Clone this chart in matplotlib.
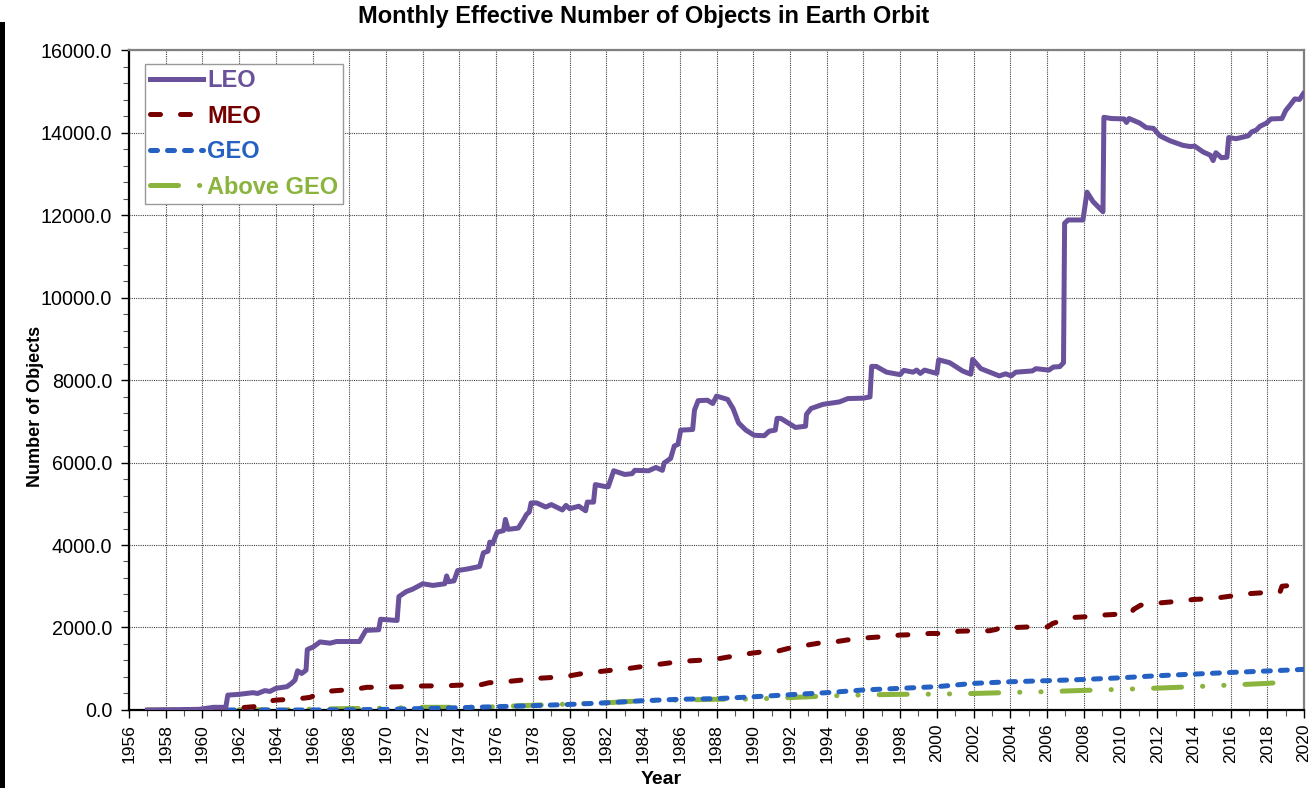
import matplotlib.pyplot as plt
from matplotlib.patches import Rectangle
from matplotlib.ticker import MultipleLocator, FormatStrFormatter

plt.rcParams['font.family'] = ['Liberation Sans', 'DejaVu Sans']

# values (year, effective number of objects)
leo_year = [1957.0, 1959.8, 1960.6, 1961.27, 1961.38, 1962.0, 1962.75, 1963.0, 1963.4, 1963.67,
            1964.0, 1964.6, 1964.85, 1965.04, 1965.18, 1965.4, 1965.64, 1965.71, 1966.04, 1966.4,
            1966.95, 1967.3, 1968.55, 1968.9, 1969.6, 1969.7, 1970.6, 1970.7, 1971.1, 1971.45,
            1972.0, 1972.55, 1973.2, 1973.3, 1973.4, 1973.7, 1973.9, 1974.45, 1975.1, 1975.3,
            1975.55, 1975.65, 1975.8, 1976.05, 1976.4, 1976.5, 1976.65, 1977.2, 1977.5, 1977.65,
            1977.8, 1977.9, 1978.2, 1978.7, 1979.0, 1979.6, 1979.8, 1980.0, 1980.5, 1980.87,
            1980.96, 1981.3, 1981.4, 1981.9, 1982.1, 1982.4, 1983.0, 1983.4, 1983.55, 1984.3,
            1984.7, 1985.05, 1985.15, 1985.5, 1985.7, 1985.9, 1986.05, 1986.7, 1986.8, 1987.0,
            1987.5, 1987.8, 1988.0, 1988.6, 1988.9, 1989.2, 1989.6, 1990.05, 1990.6, 1990.87,
            1991.2, 1991.3, 1991.5, 1992.3, 1992.85, 1992.9, 1993.15, 1993.8, 1994.7, 1995.15,
            1996.0, 1996.36, 1996.45, 1996.7, 1997.26, 1998.0, 1998.2, 1998.7, 1998.9, 1999.1,
            1999.33, 2000.0, 2000.1, 2000.7, 2001.4, 2001.85, 2001.95, 2002.4, 2003.4, 2003.75,
            2004.05, 2004.3, 2005.2, 2005.4, 2006.1, 2006.35, 2006.7, 2006.9, 2006.96, 2007.15,
            2007.96, 2008.18, 2008.5, 2009.05, 2009.1, 2009.5, 2010.2, 2010.33, 2010.47, 2011.05,
            2011.4, 2011.8, 2012.15, 2012.7, 2013.4, 2013.8, 2014.05, 2014.5, 2014.9, 2015.05,
            2015.2, 2015.5, 2015.8, 2015.9, 2016.3, 2016.96, 2017.15, 2017.4, 2017.6, 2017.96,
            2018.2, 2018.8, 2019.0, 2019.25, 2019.5, 2019.75, 2019.96]
leo_count = [0, 15, 65, 65, 360, 380, 420, 400, 470, 450,
             525, 565, 645, 725, 950, 885, 965, 1465, 1530, 1650,
             1620, 1660, 1660, 1930, 1945, 2200, 2170, 2750, 2870, 2930,
             3060, 3020, 3060, 3250, 3110, 3130, 3380, 3420, 3480, 3810,
             3850, 4070, 4030, 4310, 4350, 4620, 4380, 4410, 4620, 4740,
             4800, 5020, 5020, 4920, 4980, 4850, 4960, 4880, 4940, 4830,
             5040, 5040, 5465, 5420, 5410, 5800, 5710, 5730, 5810, 5800,
             5880, 5810, 5990, 6100, 6400, 6440, 6785, 6800, 7270, 7500,
             7510, 7430, 7610, 7530, 7310, 6960, 6785, 6660, 6650, 6760,
             6785, 7070, 7070, 6850, 6880, 7170, 7310, 7410, 7470, 7550,
             7560, 7590, 8330, 8330, 8190, 8130, 8235, 8190, 8240, 8160,
             8240, 8160, 8490, 8420, 8220, 8140, 8500, 8275, 8100, 8150,
             8100, 8190, 8220, 8275, 8240, 8315, 8325, 8420, 11800, 11880,
             11880, 12555, 12330, 12080, 14370, 14340, 14330, 14245, 14340, 14230,
             14120, 14100, 13920, 13800, 13690, 13660, 13670, 13530, 13450, 13320,
             13510, 13390, 13400, 13880, 13850, 13920, 14015, 14060, 14150, 14230,
             14330, 14340, 14530, 14670, 14815, 14800, 14940]

meo_year = [1959.0, 1961.7, 1962.8, 1963.4, 1964.0, 1965.1, 1965.85, 1966.65, 1967.3, 1968.3,
            1968.95, 1969.5, 1970.8, 1971.7, 1973.45, 1974.1, 1975.1, 1975.6, 1976.5, 1977.4,
            1978.2, 1979.1, 1979.9, 1980.7, 1981.5, 1982.3, 1983.2, 1983.9, 1984.9, 1985.6,
            1986.5, 1987.3, 1988.2, 1988.9, 1989.8, 1990.5, 1991.4, 1992.1, 1992.9, 1993.7,
            1994.5, 1995.3, 1996.2, 1997.0, 1997.96, 1998.8, 1999.6, 2000.5, 2001.2, 2002.04,
            2002.85, 2003.2, 2003.6, 2004.3, 2005.1, 2006.04, 2006.3, 2006.6, 2007.3, 2008.1,
            2009.0, 2009.8, 2010.6, 2010.7, 2011.1, 2012.0, 2013.0, 2014.0, 2015.0, 2016.0,
            2017.0, 2018.0, 2018.7, 2018.8, 2019.5, 2020.0]
meo_count = [0, 40, 80, 200, 240, 265, 305, 445, 470, 500,
             550, 550, 565, 580, 590, 605, 605, 660, 685, 725,
             765, 790, 820, 885, 925, 965, 1005, 1050, 1110, 1150,
             1190, 1210, 1250, 1305, 1370, 1410, 1435, 1515, 1570, 1630,
             1655, 1710, 1750, 1775, 1815, 1830, 1855, 1855, 1910, 1920,
             1920, 1950, 2015, 2000, 2015, 2015, 2095, 2140, 2240, 2260,
             2300, 2320, 2340, 2435, 2540, 2590, 2630, 2680, 2700, 2760,
             2820, 2850, 2870, 3000, 3030, 3030]

geo_year = [1959.5, 1966.0, 1968.0, 1970.0, 1972.0, 1974.0, 1976.0, 1978.0, 1980.0, 1982.0,
            1984.0, 1986.0, 1988.0, 1990.0, 1992.0, 1994.0, 1996.0, 1998.0, 2000.0, 2002.0,
            2004.0, 2006.0, 2008.0, 2010.0, 2012.0, 2014.0, 2016.0, 2018.0, 2020.0]
geo_count = [0, 0, 5, 15, 35, 55, 80, 105, 135, 175,
             225, 260, 275, 320, 370, 420, 485, 525, 565, 645,
             685, 710, 740, 780, 830, 870, 910, 945, 985]

above_year = [1957.0, 1964.0, 1966.0, 1968.0, 1970.0, 1972.0, 1974.0, 1976.0, 1978.0, 1980.0,
              1982.0, 1984.0, 1986.0, 1988.0, 1990.0, 1992.0, 1994.0, 1996.0, 1998.0, 2000.0,
              2002.0, 2004.0, 2006.0, 2008.0, 2010.0, 2012.0, 2014.0, 2016.0, 2018.0, 2019.3]
above_count = [0, 5, 20, 35, 45, 65, 65, 80, 115, 145,
               175, 225, 240, 260, 265, 300, 340, 365, 380, 385,
               400, 425, 445, 475, 500, 530, 565, 605, 645, 685]

fig = plt.figure(figsize=(13.14, 7.88), dpi=100)
ax = fig.add_axes([0.0982, 0.099, 0.8942, 0.8375])

lw = 3.6
ax.plot(leo_year, leo_count, color="#6a519b", lw=lw, solid_joinstyle="round", label="LEO", zorder=5)
ax.plot(meo_year, meo_count, color="#760000", lw=lw, linestyle=(0, (2.0, 4.0)),
        dash_capstyle="round", label="MEO", zorder=4)
ax.plot(geo_year, geo_count, color="#2561c2", lw=lw, linestyle=(0, (1.4, 2.0)),
        dash_capstyle="round", label="GEO", zorder=3)
ax.plot(above_year, above_count, color="#8bb43e", lw=lw,
        linestyle=(0, (5.6, 4.2, 0.05, 4.2, 0.05, 4.2)),
        dash_capstyle="round", label="Above GEO", zorder=2)

ax.set_xlim(1956, 2020)
ax.set_ylim(0, 16000)
ax.xaxis.set_major_locator(MultipleLocator(2))
ax.xaxis.set_minor_locator(MultipleLocator(1))
ax.yaxis.set_major_locator(MultipleLocator(2000))
ax.yaxis.set_minor_locator(MultipleLocator(400))
ax.yaxis.set_major_formatter(FormatStrFormatter("%.1f"))
ax.xaxis.set_major_formatter(FormatStrFormatter("%d"))
ax.tick_params(axis="x", which="major", labelsize=12.5, rotation=90, length=6, width=1, pad=4)
ax.tick_params(axis="y", which="major", labelsize=14.2, length=6, width=1, pad=6)
ax.tick_params(which="minor", length=4, width=0.8, color="#555555")

ax.grid(True, which="major", linestyle=(0, (1, 1)), color="#444444", lw=0.8)
ax.set_axisbelow(True)

for side in ["left", "bottom"]:
    ax.spines[side].set_linewidth(1.6)
    ax.spines[side].set_color("black")
for side in ["top", "right"]:
    ax.spines[side].set_linewidth(1.6)
    ax.spines[side].set_color("#808080")

ax.set_ylabel("Number of Objects", fontsize=13, fontweight="bold")
ax.yaxis.set_label_coords(-0.072, 0.46)
ax.set_xlabel("Year", fontsize=14, fontweight="bold")
ax.xaxis.set_label_coords(0.453, -0.092)

fig.text(0.49, 1 - 17 / 788, "Monthly Effective Number of Objects in Earth Orbit",
         ha="center", va="center", fontsize=17, fontweight="bold")

leg = ax.legend(loc="upper left", bbox_to_anchor=(0.0136, 0.979),
                prop={"weight": "bold", "size": 17}, fancybox=False, framealpha=1,
                edgecolor="#999999", handlelength=2.25, handletextpad=0.15,
                labelspacing=0.53, borderpad=0.22, borderaxespad=0)
leg.get_frame().set_linewidth(1.0)
for txt, line in zip(leg.get_texts(), leg.get_lines()):
    txt.set_color(line.get_color())

# black bar along the left edge of the slide
fig.add_artist(Rectangle((0, 0), 5 / 1314, 766 / 788, transform=fig.transFigure,
                         color="black", lw=0))

fig.savefig("out.png", dpi=100)
